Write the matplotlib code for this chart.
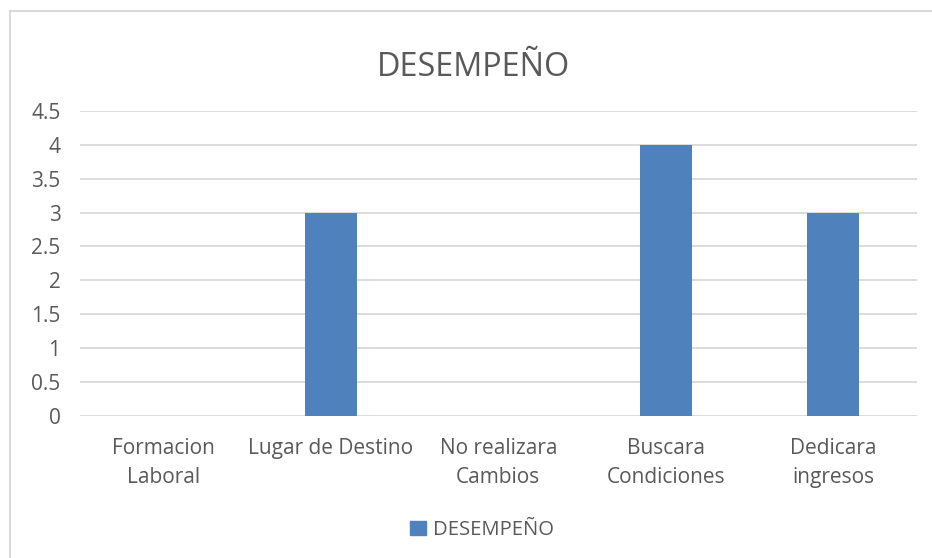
import matplotlib.pyplot as plt
from matplotlib.lines import Line2D
from matplotlib.patches import Patch

# data
categorias = ['Formacion\nLaboral', 'Lugar de Destino', 'No realizara\nCambios',
              'Buscara\nCondiciones', 'Dedicara\ningresos']
desempeno = [0, 3, 0, 4, 3]
y_ticks = [0, 0.5, 1, 1.5, 2, 2.5, 3, 3.5, 4, 4.5]
y_labels = ['0', '0.5', '1', '1.5', '2', '2.5', '3', '3.5', '4', '4.5']

plt.rcParams['font.family'] = ['Open Sans', 'DejaVu Sans']
txt = '#595959'
grid = '#D9D9D9'
azul = '#4F81BD'

W, H = 932, 558
fig = plt.figure(figsize=(W / 100, H / 100), dpi=100)
ax = fig.add_axes([80 / W, 1 - 415.7 / H, (916.7 - 80) / W, (415.7 - 111) / H])

x = list(range(len(categorias)))
ax.bar(x, desempeno, width=0.31, color=azul, zorder=3, label='DESEMPEÑO')

ax.set_xlim(-0.5, len(categorias) - 0.5)
ax.set_ylim(0, 4.5)
ax.set_yticks(y_ticks)
ax.set_yticklabels(y_labels)
ax.set_xticks(x)
ax.set_xticklabels(categorias, linespacing=1.5)
ax.tick_params(axis='both', length=0, labelsize=15, colors=txt)
ax.tick_params(axis='x', pad=16)
ax.tick_params(axis='y', pad=14)
ax.yaxis.grid(True, color=grid, linewidth=1.3, zorder=0)
for s in ax.spines.values():
    s.set_visible(False)

fig.text(473 / W, 1 - 67 / H, 'DESEMPEÑO', ha='center', va='center',
         fontsize=23.3, color=txt)

ax.legend(handles=[Patch(color=azul, label='DESEMPEÑO')], loc='center',
          bbox_to_anchor=(482 / W, 1 - 530 / H), bbox_transform=fig.transFigure,
          frameon=False, fontsize=14.6, labelcolor=txt, handlelength=0.75,
          handleheight=0.75, handletextpad=0.35)

# borde del grafico
fig.add_artist(Line2D([10 / W, 1], [1 - 11 / H, 1 - 11 / H], color=grid, lw=1.5))
fig.add_artist(Line2D([10 / W, 10 / W], [0, 1 - 11 / H], color=grid, lw=1.5))

fig.savefig('out.png', dpi=100, facecolor='white')
